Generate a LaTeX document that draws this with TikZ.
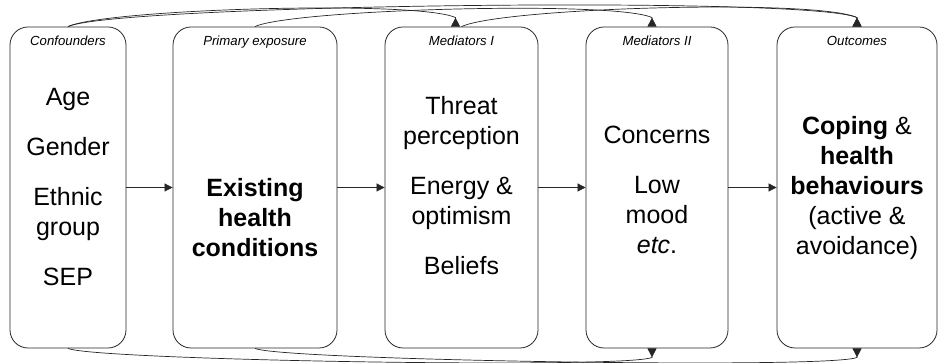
\documentclass[tikz,border=0pt]{standalone}
\usepackage{fontspec}
\setmainfont{Liberation Sans}
\usetikzlibrary{%
  arrows.meta,%
  positioning% wg. " of "
}

\begin{document}
\begin{tikzpicture}[
  x=1pt, y=1pt,
  >={Triangle[length=8pt,width=8pt]},
  box/.style={draw=black!85, line width=0.8pt, rounded corners=18pt,
    minimum height=321pt, inner sep=0pt},
  head/.style={font=\fontsize{13.2}{15}\selectfont\itshape, anchor=base},
  body/.style={font=\fontsize{25}{30}\selectfont, align=center},
  link/.style={draw=black!85, line width=0.7pt},
  endtip/.style={-{Triangle[reversed,length=9pt,width=9pt]}}
]
\useasboundingbox (0,0) rectangle (939,363);

% boxes
\node[box, minimum width=116pt] (c1) at (68,175.5) {};
\node[box, minimum width=164pt] (c2) at (255,175.5) {};
\node[box, minimum width=153pt] (c3) at (461.5,175.5) {};
\node[box, minimum width=142pt] (c4) at (657,175.5) {};
\node[box, minimum width=160pt] (c5) at (857,175.5) {};

% headings
\node[head] (h1) at ([yshift=-19pt]c1.north) {Confounders};
\node[head] (h2) at ([yshift=-19pt]c2.north) {Primary exposure};
\node[head] (h3) at ([yshift=-19pt]c3.north) {Mediators I};
\node[head] (h4) at ([yshift=-19pt]c4.north) {Mediators II};
\node[head] (h5) at ([yshift=-19pt]c5.north) {Outcomes};

% contents
\node[body] (t1) at (c1) {Age\\[20pt]Gender\\[20pt]Ethnic\\group\\[20pt]SEP};
\node[body, font=\fontsize{25}{30}\selectfont\bfseries] (t2)
  at ([yshift=-30pt]c2.center) {Existing\\health\\conditions};
\node[body] (t3) at ([yshift=2pt]c3.center)
  {Threat\\perception\\[20pt]Energy \&\\optimism\\[20pt]Beliefs};
\node[body] (t4) at ([yshift=-2pt]c4.center)
  {Concerns\\[20pt]Low\\mood\\\textit{etc}.};
\node[body] (t5) at ([yshift=-1pt]c5.center)
  {\textbf{Coping} \&\\\textbf{health}\\\textbf{behaviours}\\(active \&\\avoidance)};

% straight arrows
\draw[link,->] (c1.east) -- (c2.west);
\draw[link,->] (c2.east) -- (c3.west);
\draw[link,->] (c3.east) -- (c4.west);
\draw[link,->] (c4.east) -- (c5.west);

% curved arrows, top
\draw[link,endtip] (c1.north) .. controls +(25:42) and +(155:42) ..
  ([xshift=-6pt,yshift=9pt]c3.north) -- ([xshift=-6pt]c3.north);
\draw[link,endtip] (c1.north) .. controls +(25:52) and +(155:52) ..
  ([yshift=9pt]c5.north) -- (c5.north);
\draw[link,endtip] (c2.north) .. controls +(25:41) and +(155:41) ..
  ([xshift=-5pt,yshift=9pt]c4.north) -- ([xshift=-5pt]c4.north);
\draw[link,endtip] (c3.north) .. controls +(25:45) and +(155:45) ..
  ([yshift=9pt]c5.north) -- (c5.north);

% curved arrows, bottom
\draw[link,endtip] (c1.south) .. controls +(-25:28) and +(-155:28) ..
  ([xshift=-5pt,yshift=-9pt]c4.south) -- ([xshift=-5pt]c4.south);
\draw[link,endtip] (c2.south) .. controls +(-25:28) and +(-155:28) ..
  ([yshift=-9pt]c5.south) -- (c5.south);

\end{tikzpicture}
\end{document}
